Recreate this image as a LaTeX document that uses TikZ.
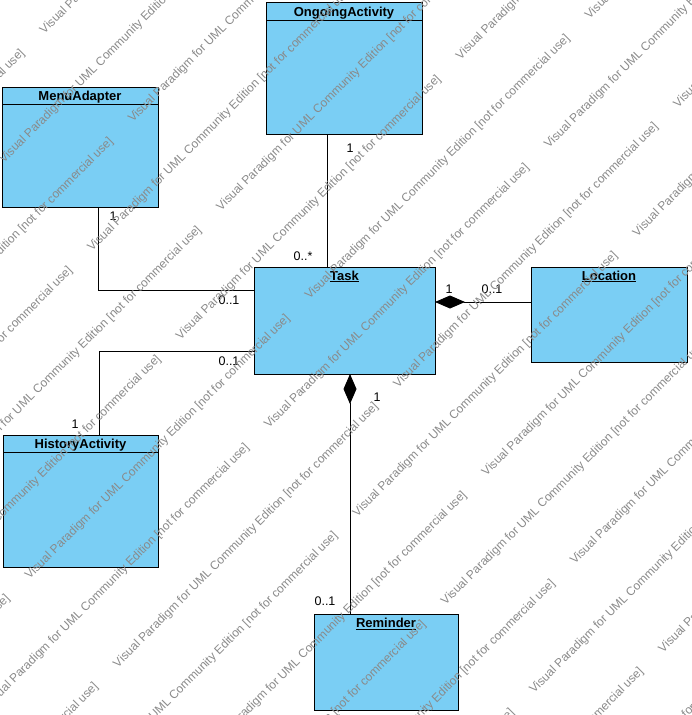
\documentclass[tikz,border=0pt]{standalone}
\usepackage{fontspec}
\setmainfont{Liberation Sans}
\usepackage{tikz}
\usetikzlibrary{arrows.meta}
\definecolor{classfill}{HTML}{7ACEF4}
\definecolor{wmark}{HTML}{8A8A8A}

\begin{document}
\begin{tikzpicture}[x=1pt, y=-1pt,
  classbox/.style={draw=black, fill=classfill, line width=1pt, inner sep=0pt, outer sep=0pt},
  classname/.style={font=\fontsize{13}{15}\selectfont\bfseries, inner sep=0pt, anchor=base},
  mult/.style={font=\fontsize{12.5}{14}\selectfont, inner sep=0pt},
  assoc/.style={line width=1pt},
  compose/.style={line width=1pt, {Diamond[length=30pt, width=13pt]}-},
  wmtext/.style={font=\fontsize{12}{14}\selectfont, text=wmark, rotate=45, anchor=base west, inner sep=0pt}]
  \useasboundingbox (0,0) rectangle (691,715);

  \node[classbox, minimum width=156pt, minimum height=132pt] (ongoing) at (344,68) {};
  \node[classbox, minimum width=156pt, minimum height=120pt] (menu) at (80,147) {};
  \node[classbox, minimum width=181pt, minimum height=107pt] (task) at (344.5,320.5) {};
  \node[classbox, minimum width=156pt, minimum height=95pt] (location) at (609,314.5) {};
  \node[classbox, minimum width=155pt, minimum height=132pt] (history) at (80.5,501) {};
  \node[classbox, minimum width=144pt, minimum height=96pt] (reminder) at (386,662) {};

  \draw[line width=1pt] ([yshift=-18pt]ongoing.north west) -- ([yshift=-18pt]ongoing.north east);
  \draw[line width=1pt] ([yshift=-17pt]menu.north west) -- ([yshift=-17pt]menu.north east);
  \draw[line width=1pt] ([yshift=-17pt]history.north west) -- ([yshift=-17pt]history.north east);

  \node[classname] (ongoingname) at ([yshift=-14.5pt]ongoing.north) {OngoingActivity};
  \node[classname] (menuname) at ([yshift=-13pt]menu.north) {MenuAdapter};
  \node[classname] (historyname) at ([yshift=-13.3pt]history.north) {HistoryActivity};
  \node[classname] (taskname) at ([yshift=-13pt]task.north) {Task};
  \node[classname] (locationname) at ([yshift=-13pt]location.north) {Location};
  \node[classname] (remindername) at ([yshift=-13.5pt]reminder.north) {Reminder};
  \draw[line width=1pt] ([yshift=-1.5pt]taskname.base west) -- ([yshift=-1.5pt]taskname.base east);
  \draw[line width=1pt] ([yshift=-1.5pt]locationname.base west) -- ([yshift=-1.5pt]locationname.base east);
  \draw[line width=1pt] ([yshift=-1.5pt]remindername.base west) -- ([yshift=-1.5pt]remindername.base east);

  \draw[assoc] ([xshift=-17pt]ongoing.south) -- ([xshift=-17.5pt]task.north);
  \draw[assoc] ([xshift=18pt]menu.south) |- ([yshift=30.5pt]task.west);
  \draw[assoc] ([yshift=-30.5pt]task.west) -| ([xshift=18.5pt]history.north);
  \draw[compose] ([yshift=18.5pt]task.east) -- ([yshift=12.5pt]location.west);
  \draw[compose] ([xshift=5.5pt]task.south) -- ([xshift=-36pt]reminder.north);

  \node[mult] (ongoingone) at (350,148) {1};
  \node[mult] (ongoingmany) at (303,256) {0..*};
  \node[mult] (menuone) at (113,216) {1};
  \node[mult] (menutask) at (229,300) {0..1};
  \node[mult] (historytask) at (229,361) {0..1};
  \node[mult] (historyone) at (75,424) {1};
  \node[mult] (locationone) at (449,289) {1};
  \node[mult] (locationzero) at (492,289) {0..1};
  \node[mult] (reminderone) at (377,397) {1};
  \node[mult] (reminderzero) at (325,601) {0..1};

  \begin{scope}
    \clip (0,0) rectangle (691,715);
    \foreach \r in {-13,...,5} {
      \foreach \k in {-2,...,1} {
        \pgfmathsetmacro{\wmoff}{mod(abs(\r),2)*120 + \k*396}
        \pgfmathsetmacro{\wmx}{445.6 + (\r*62.5 + \wmoff)*0.7071}
        \pgfmathsetmacro{\wmy}{605.6 + (\r*62.5 - \wmoff)*0.7071}
        \node[wmtext] (wm\r\k) at (\wmx,\wmy) {Visual Paradigm for UML Community Edition [not for commercial use]};
      }
    }
  \end{scope}
\end{tikzpicture}
\end{document}
